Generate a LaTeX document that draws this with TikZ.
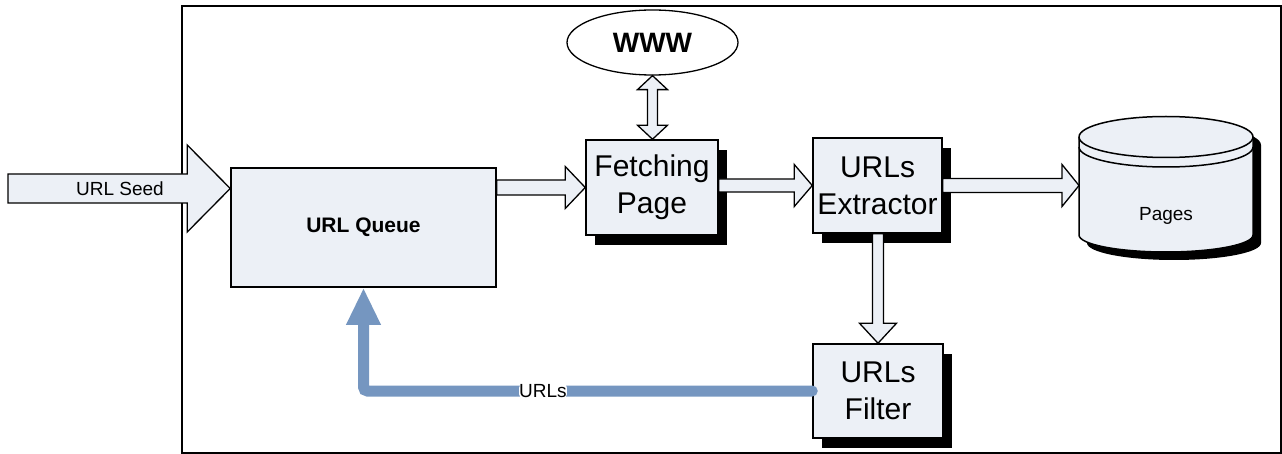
\documentclass[tikz,border=0pt]{standalone}
\usepackage{fontspec}
\setmainfont{Liberation Sans}
\usetikzlibrary{calc,shapes.geometric,shadows,arrows.meta}

\definecolor{boxfill}{RGB}{236,240,246}
\definecolor{linkblue}{RGB}{117,150,192}

\tikzset{
  proc/.style={draw, line width=1.5pt, fill=boxfill, inner sep=0pt, align=center,
    font=\fontsize{30}{37}\selectfont},
  shadowed/.style={drop shadow={shadow xshift=9pt, shadow yshift=-10pt, fill=black, opacity=1}},
  blockarrow/.style={draw, line width=1.3pt, fill=boxfill, line join=miter},
  smalltext/.style={font=\fontsize{19}{22}\selectfont},
}

% horizontal block arrow: #1 tail, #2 tip, #3 half shaft, #4 half head, #5 head length
\newcommand{\hblock}[5]{%
  \path[blockarrow] let \p1=(#1), \p2=(#2) in
    (\x1,\y2+#3) -- (\x2-#5,\y2+#3) -- (\x2-#5,\y2+#4) -- (\x2,\y2)
    -- (\x2-#5,\y2-#4) -- (\x2-#5,\y2-#3) -- (\x1,\y2-#3) -- cycle;}
% downward block arrow: #1 tail (above), #2 tip (below)
\newcommand{\vblock}[5]{%
  \path[blockarrow] let \p1=(#1), \p2=(#2) in
    (\x2-#3,\y1) -- (\x2-#3,\y2+#5) -- (\x2-#4,\y2+#5) -- (\x2,\y2)
    -- (\x2+#4,\y2+#5) -- (\x2+#3,\y2+#5) -- (\x2+#3,\y1) -- cycle;}
% vertical double-headed block arrow: #1 upper tip, #2 lower tip
\newcommand{\dvblock}[5]{%
  \path[blockarrow] let \p1=(#1), \p2=(#2) in
    (\x1,\y1) -- (\x1+#4,\y1-#5) -- (\x1+#3,\y1-#5) -- (\x1+#3,\y2+#5)
    -- (\x1+#4,\y2+#5) -- (\x1,\y2) -- (\x1-#4,\y2+#5) -- (\x1-#3,\y2+#5)
    -- (\x1-#3,\y1-#5) -- (\x1-#4,\y1-#5) -- cycle;}

\begin{document}
\begin{tikzpicture}[x=1pt,y=1pt]
\useasboundingbox (0,0) rectangle (1282,-454);

% outer frame
\draw[line width=1.8pt] (182,-6) rectangle (1281,-453);

% process boxes
\node[proc, minimum width=265pt, minimum height=119pt,
      font=\bfseries\fontsize{21}{24}\selectfont] (queue) at (363.5,-227.5) {URL Queue};
\node[proc, shadowed, minimum width=132pt, minimum height=95pt] (fetch) at (652,-187.5) {Fetching\\Page};
\node[proc, shadowed, minimum width=129pt, minimum height=95pt] (ext) at (877.5,-185.5) {URLs\\Extractor};
\node[proc, shadowed, minimum width=130pt, minimum height=94pt] (filter) at (878,-391) {URLs\\Filter};

% the web
\node[ellipse, draw, line width=1.3pt, fill=white, minimum width=171pt, minimum height=65pt,
      inner sep=0pt, font=\bfseries\fontsize{28}{30}\selectfont] (www) at (652.5,-42.5) {WWW};

% page store (cylinder with lip and shadow)
\fill[black, shift={(8pt,-8pt)}] (1079,-137) -- (1079,-235)
  arc[start angle=180, end angle=360, x radius=87pt, y radius=17pt] -- (1253,-137)
  arc[start angle=0, end angle=180, x radius=87pt, y radius=20.5pt] -- cycle;
\draw[line width=1.5pt, fill=boxfill] (1079,-137) -- (1079,-235)
  arc[start angle=180, end angle=360, x radius=87pt, y radius=17pt] -- (1253,-137)
  arc[start angle=0, end angle=180, x radius=87pt, y radius=20.5pt] -- cycle;
\draw[line width=1.5pt] (1079,-137) arc[start angle=180, end angle=360, x radius=87pt, y radius=20.5pt];
\draw[line width=1.5pt] (1079,-147) arc[start angle=180, end angle=360, x radius=87pt, y radius=20pt];
\node[smalltext] (pages) at (1166,-216) {Pages};
\coordinate (store) at (1079,-185.5);

% seed input
\coordinate (seed) at (8,-188.5);
\hblock{seed}{queue.west |- seed}{14.5pt}{43.5pt}{43pt}
\node[smalltext] (seedlabel) at (120,-188.5) {URL Seed};

% flow arrows
\hblock{queue.east}{fetch.west}{7.5pt}{21pt}{20pt}
\hblock{fetch.east}{ext.west}{6.5pt}{21pt}{18pt}
\hblock{ext.east}{store}{7pt}{21pt}{17pt}
\vblock{ext.south}{filter.north}{5.5pt}{18.5pt}{20pt}
\dvblock{www.south}{fetch.north}{5pt}{15pt}{14pt}

% filtered URLs back to the queue
\draw[line width=11pt, linkblue, line cap=round, rounded corners=4pt,
      -{Triangle[width=32pt,length=37pt]}]
  (filter.west) -| node[pos=0.3, fill=white, text=black, inner xsep=0pt, inner ysep=1pt, smalltext] {URLs}
  (queue.south);
\end{tikzpicture}
\end{document}
